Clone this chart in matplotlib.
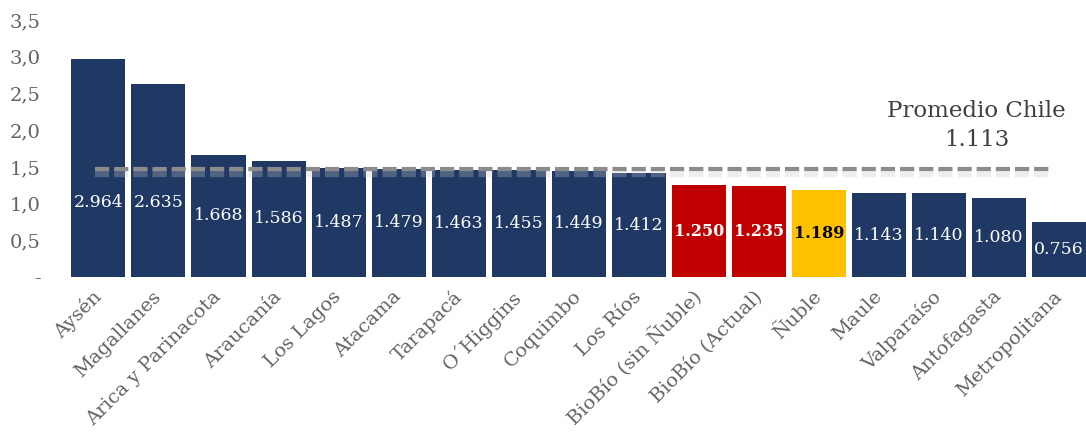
import numpy as np
import matplotlib
matplotlib.use("Agg")
import matplotlib.pyplot as plt
import matplotlib.patheffects as pe
from matplotlib.transforms import ScaledTranslation

regiones = ["Aysén", "Magallanes", "Arica y Parinacota", "Araucanía", "Los Lagos",
            "Atacama", "Tarapacá", "O´Higgins", "Coquimbo", "Los Ríos",
            "BioBío (sin Ñuble)", "BioBío (Actual)", "Ñuble", "Maule",
            "Valparaíso", "Antofagasta", "Metropolitana"]
valores = [2.964, 2.635, 1.668, 1.586, 1.487, 1.479, 1.463, 1.455, 1.449, 1.412,
           1.250, 1.235, 1.189, 1.143, 1.140, 1.080, 0.756]
etiquetas = ["2.964", "2.635", "1.668", "1.586", "1.487", "1.479", "1.463", "1.455",
             "1.449", "1.412", "1.250", "1.235", "1.189", "1.143", "1.140", "1.080", "0.756"]
promedio_texto = "Promedio Chile\n1.113"
promedio_linea = 1.47  # altura a la que esta dibujada la linea en el original
yticks = [0, 0.5, 1.0, 1.5, 2.0, 2.5, 3.0, 3.5]
yticklabels = ["-", "0,5", "1,0", "1,5", "2,0", "2,5", "3,0", "3,5"]

azul = "#1F3864"
rojo = "#C00000"
amarillo = "#FFC000"
gris = "#636363"
colores = [azul] * 10 + [rojo, rojo, amarillo] + [azul] * 4

plt.rcParams["font.family"] = ["DejaVu Serif"]

fig = plt.figure(figsize=(10.86, 4.47), dpi=100)
ax = fig.add_axes([0.063, 0.38, 0.937, 0.575])

x = np.arange(len(regiones))
ax.bar(x, valores, width=0.9, color=colores, zorder=2)

# linea promedio con sombra difusa
ax.hlines(promedio_linea, -0.05, 15.85, colors="#8C8C8C", linestyles=(0, (3.4, 1.2)),
          linewidth=3.0, zorder=3,
          path_effects=[pe.SimpleLineShadow(offset=(0, -2.5), shadow_color="#c8c8c8", alpha=0.3,
                                            linewidth=6),
                        pe.Normal()])
ax.text(14.63, 2.06, promedio_texto, ha="center", va="center", fontsize=16.5,
        color="#404040", linespacing=1.4)

for i, (v, t) in enumerate(zip(valores, etiquetas)):
    ypos = min(v / 2, 1.01)
    if colores[i] == rojo:
        ax.text(i, ypos, t, ha="center", va="center", color="white", fontsize=11.5,
                fontweight="bold", zorder=4)
    elif colores[i] == amarillo:
        ax.text(i, ypos, t, ha="center", va="center", color="black", fontsize=11.5,
                fontweight="bold", zorder=4)
    else:
        ax.text(i, ypos, t, ha="center", va="center", color="white", fontsize=12.5, zorder=4)

ax.set_xlim(-0.5, 16.45)
ax.set_ylim(0, 3.5)
ax.set_yticks(yticks)
ax.set_yticklabels(yticklabels, fontsize=14, color=gris)
ax.set_xticks(x)
ax.set_xticklabels(regiones, rotation=45, ha="right", va="center", rotation_mode="anchor",
                   fontsize=14, color=gris)
desplaza = ScaledTranslation(1 / 72, 0, fig.dpi_scale_trans)
for lbl in ax.get_xticklabels():
    lbl.set_transform(lbl.get_transform() + desplaza)
ax.tick_params(axis="both", length=0)
ax.tick_params(axis="y", pad=20)
ax.tick_params(axis="x", pad=12)
for s in ax.spines.values():
    s.set_visible(False)

plt.savefig("out.png", dpi=100)
plt.close()
